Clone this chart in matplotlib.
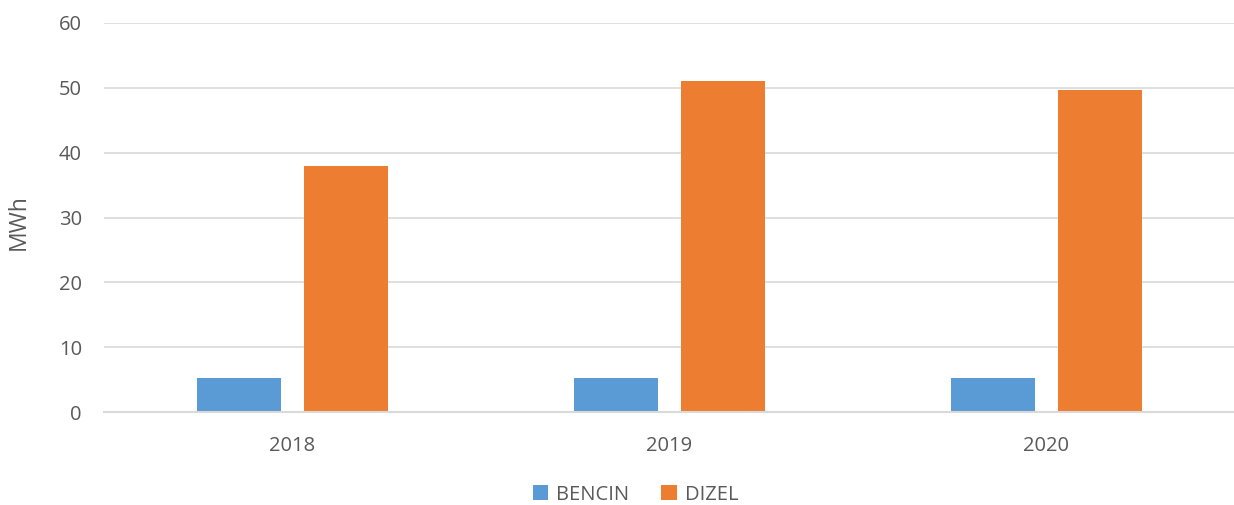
import numpy as np
import matplotlib.pyplot as plt

years = ["2018", "2019", "2020"]
bencin = [5.2, 5.2, 5.2]
dizel = [38.0, 51.1, 49.7]

plt.rcParams['font.family'] = ['Open Sans', 'DejaVu Sans']
grey = "#595959"

fig = plt.figure(figsize=(12.34, 5.05), dpi=100)
ax = fig.add_axes([0.0843, 0.184, 0.9165, 0.7705])

x = np.arange(len(years))
w = 0.223
ax.bar(x - 0.1425, bencin, w, color="#5b9bd5", label="BENCIN", zorder=3)
ax.bar(x + 0.1425, dizel, w, color="#ed7d31", label="DIZEL", zorder=3)

ax.set_xlim(-0.5, 2.5)
ax.set_ylim(0, 60)
ax.set_yticks(range(0, 61, 10))
ax.set_xticks(x)
ax.set_xticklabels(years)
ax.grid(axis="y", color="#d9d9d9", linewidth=1.2, zorder=0)
for s in ["top", "right", "left"]:
    ax.spines[s].set_visible(False)
ax.spines["bottom"].set_color("#d9d9d9")
ax.spines["bottom"].set_linewidth(1.5)
ax.spines["bottom"].set_zorder(4)
ax.tick_params(axis="y", length=0, pad=16, labelsize=14.5, labelcolor=grey)
ax.tick_params(axis="x", length=0, pad=17, labelsize=14.5, labelcolor=grey)
ax.set_ylabel("MWh", fontsize=16.5, color=grey)
ax.yaxis.set_label_coords(-0.0645, 0.488)

fig.legend(loc="lower center", bbox_to_anchor=(0.515, -0.035), ncol=2, frameon=False,
           fontsize=14.5, labelcolor=grey, handlelength=0.75, handleheight=0.75,
           handletextpad=0.4, columnspacing=1.6)

plt.savefig("out.png")
